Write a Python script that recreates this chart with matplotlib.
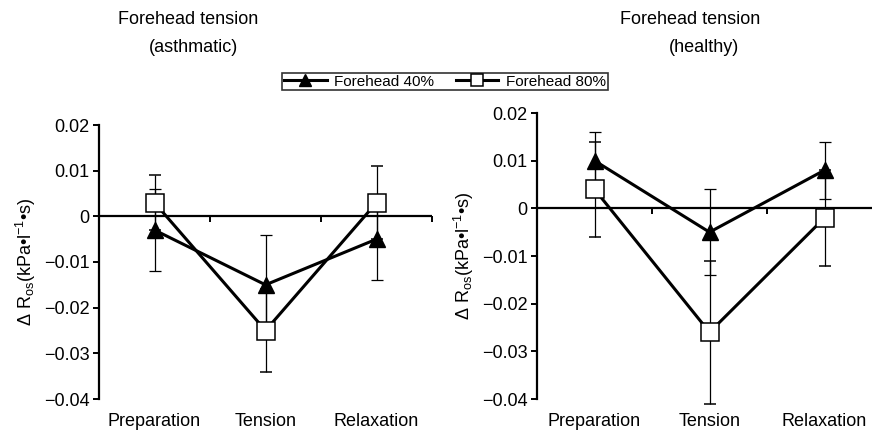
import matplotlib
matplotlib.use('Agg')
import matplotlib.pyplot as plt
import numpy as np
from matplotlib.lines import Line2D
from matplotlib.ticker import FuncFormatter

plt.rcParams['font.family'] = ['Liberation Sans', 'DejaVu Sans']
plt.rcParams['mathtext.fontset'] = 'custom'
plt.rcParams['mathtext.rm'] = 'Liberation Sans'
plt.rcParams['mathtext.it'] = 'Liberation Sans:italic'

phases = ['Preparation', 'Tension', 'Relaxation']

# asthmatic
asth_40 = [-0.003, -0.015, -0.005]
asth_40_err = [0.009, 0.011, 0.009]
asth_80 = [0.003, -0.025, 0.003]
asth_80_err = [0.006, 0.009, 0.008]

# healthy
heal_40 = [0.010, -0.005, 0.008]
heal_40_err = [0.006, 0.009, 0.006]
heal_80 = [0.004, -0.026, -0.002]
heal_80_err = [0.010, 0.015, 0.010]

yticks = [0.02, 0.01, 0, -0.01, -0.02, -0.03, -0.04]

fig = plt.figure(figsize=(8.72, 4.36), dpi=100)
ax1 = fig.add_axes([99 / 872, 1 - 399 / 436, 333 / 872, 274 / 436])
ax2 = fig.add_axes([537 / 872, 1 - 399 / 436, 345 / 872, 286 / 436])


def fmt(v, pos):
    if abs(v) < 1e-9:
        return '0'
    return f'{v:.2f}'.replace('-', '\u2212')


def draw(ax, s40, e40, s80, e80):
    x = np.arange(len(phases)) + 0.5
    ax.axhline(0, color='black', lw=1.6, zorder=1)
    ax.plot(np.arange(1, len(phases) + 1), np.zeros(len(phases)), ls='none',
            marker=3, ms=4, mew=1.4, color='black', clip_on=False)
    ax.errorbar(x, s40, yerr=e40, color='black', lw=2.2, marker='^', ms=12,
                mfc='black', mec='black', ecolor='black', elinewidth=0.9,
                capsize=4.5, capthick=0.9, zorder=3, clip_on=False)
    ax.errorbar(x, s80, yerr=e80, color='black', lw=2.2, marker='s', ms=13,
                mfc='white', mec='black', mew=1.1, ecolor='black', elinewidth=0.9,
                capsize=4.5, capthick=0.9, zorder=4, clip_on=False)
    ax.set_xlim(0, len(phases))
    ax.set_ylim(-0.04, 0.02)
    ax.set_xticks(x)
    ax.set_xticklabels(phases, fontsize=13)
    ax.tick_params(axis='x', length=0, pad=10)
    ax.set_yticks(yticks)
    ax.yaxis.set_major_formatter(FuncFormatter(fmt))
    ax.tick_params(axis='y', labelsize=13, length=4, width=1.4, direction='out', pad=3)
    for s in ['top', 'right', 'bottom']:
        ax.spines[s].set_visible(False)
    ax.spines['left'].set_linewidth(1.6)
    ax.set_ylabel('\u0394 R$_{\\mathrm{os}}$(kPa\u2022l$^{-1}$\u2022s)', fontsize=13, labelpad=4)


draw(ax1, asth_40, asth_40_err, asth_80, asth_80_err)
draw(ax2, heal_40, heal_40_err, heal_80, heal_80_err)

fig.text(188 / 872, 1 - 19 / 436, 'Forehead tension', ha='center', va='center', fontsize=13)
fig.text(193 / 872, 1 - 48 / 436, '(asthmatic)', ha='center', va='center', fontsize=13)
fig.text(690 / 872, 1 - 19 / 436, 'Forehead tension', ha='center', va='center', fontsize=13)
fig.text(704 / 872, 1 - 48 / 436, '(healthy)', ha='center', va='center', fontsize=13)

handles = [
    Line2D([], [], color='black', lw=2.2, marker='^', ms=8, mfc='black', mec='black'),
    Line2D([], [], color='black', lw=2.2, marker='s', ms=8, mfc='white', mec='black', mew=1.1),
]
leg = fig.legend(handles, ['Forehead 40%', 'Forehead 80%'], loc='center',
                 bbox_to_anchor=(445 / 872, 1 - 81.5 / 436), ncol=2,
                 fontsize=11, frameon=True, fancybox=False, edgecolor='black',
                 borderpad=0.1, handlelength=2.8, columnspacing=1.4, handletextpad=0.5)
leg.get_frame().set_linewidth(1.2)

fig.savefig('out.png', dpi=100)
